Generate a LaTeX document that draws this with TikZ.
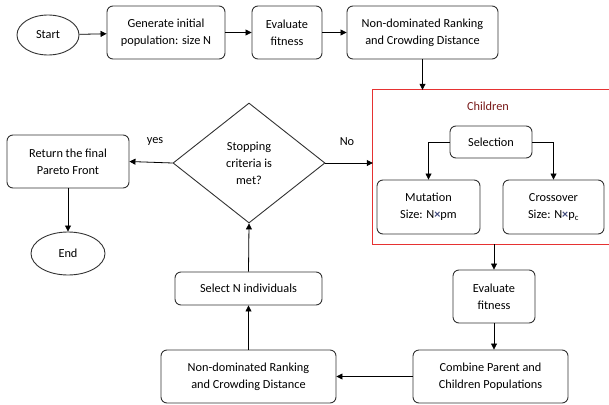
\documentclass[tikz,border=0pt]{standalone}
\usepackage{fontspec}
\setmainfont{Carlito}
\usetikzlibrary{shapes.geometric, arrows.meta, positioning}
\definecolor{lineGray}{RGB}{50,50,50}
\definecolor{kidsRed}{RGB}{230,50,50}
\definecolor{kidsText}{RGB}{120,25,25}
\definecolor{timesBlue}{RGB}{60,70,120}
\newcommand{\tms}{\textcolor{timesBlue}{\textbf{×}}}

\begin{document}
\begin{tikzpicture}[x=1pt, y=-1pt, font=\fontsize{12.3}{17}\selectfont,
    box/.style={draw=lineGray, line width=0.9pt, rounded corners=6pt, align=center, inner sep=0pt},
    term/.style={draw=lineGray, line width=0.9pt, ellipse, inner sep=0pt},
    arr/.style={-{Triangle[length=6pt,width=6pt]}, line width=0.8pt, draw=black}]
    \useasboundingbox (0,0) rectangle (609,404);
    % top row
    \node[term, minimum width=62pt, minimum height=40pt] (start) at (48,35) {Start};
    \node[box, minimum width=118pt, minimum height=53pt] (gen) at (166,32.5) {Generate initial\\population: size N};
    \node[box, minimum width=70pt, minimum height=53pt] (eval1) at (287,32.5) {Evaluate\\fitness};
    \node[box, minimum width=151pt, minimum height=53pt] (rank1) at (422.5,32.5) {Non-dominated Ranking\\and Crowding Distance};
    \draw[arr] (start) -- (gen);
    \draw[arr] (gen) -- (eval1);
    \draw[arr] (eval1) -- (rank1);
    % children block
    \node[minimum width=236pt, minimum height=154pt, inner sep=0pt] (kids) at (491,167) {};
    \draw[kidsRed, line width=0.9pt] (kids.north east) -- (kids.north west) -- (kids.south west) -- (kids.south east);
    \node[text=kidsText] (kidsLabel) at (488,106) {Children};
    \node[box, minimum width=82pt, minimum height=32pt] (sel) at (491,142) {Selection};
    \node[box, minimum width=103pt, minimum height=54pt] (mut) at (428.5,207) {Mutation\\Size: N\tms pm};
    \node[box, minimum width=101pt, minimum height=54pt] (cross) at (553.5,207) {Crossover\\Size: N\tms p\textsubscript{c}};
    \draw[arr] (rank1.south) -- (rank1.south |- kids.north);
    \draw[arr] (sel.west) -| (mut.north);
    \draw[arr] (sel.east) -| (cross.north);
    % lower loop
    \node[box, minimum width=82pt, minimum height=53pt] (eval2) at (494,296.5) {Evaluate\\fitness};
    \node[box, minimum width=155pt, minimum height=53pt] (comb) at (490.5,376.5) {Combine Parent and\\Children Populations};
    \node[box, minimum width=175pt, minimum height=53pt] (rank2) at (248.5,376.5) {Non-dominated Ranking\\and Crowding Distance};
    \node[box, minimum width=147pt, minimum height=33pt] (pick) at (248.5,288.5) {Select N individuals};
    \node[draw=lineGray, line width=0.9pt, diamond, inner sep=0pt, minimum width=152pt, minimum height=120pt, align=center] (stop) at (249,163) {Stopping\\criteria is\\met?};
    \node[box, minimum width=122pt, minimum height=53pt] (ret) at (68,161.5) {Return the final\\Pareto Front};
    \node[term, minimum width=74pt, minimum height=43pt] (fin) at (68,253.5) {End};
    \draw[arr] (eval2.north |- kids.south) -- (eval2.north);
    \draw[arr] (eval2.south) -- (eval2.south |- comb.north);
    \draw[arr] (comb.west) -- (rank2.east);
    \draw[arr] (rank2.north) -- (pick.south);
    \draw[arr] (pick.north) -- (stop.south);
    \draw[arr] (stop.east) -- (stop.east -| kids.west);
    \draw[arr] (stop.west) -- (ret.east);
    \draw[arr] (ret.south) -- (fin.north);
    \node (yesLabel) at (155,142) {yes};
    \node (noLabel) at (347,142) {No};
\end{tikzpicture}
\end{document}
